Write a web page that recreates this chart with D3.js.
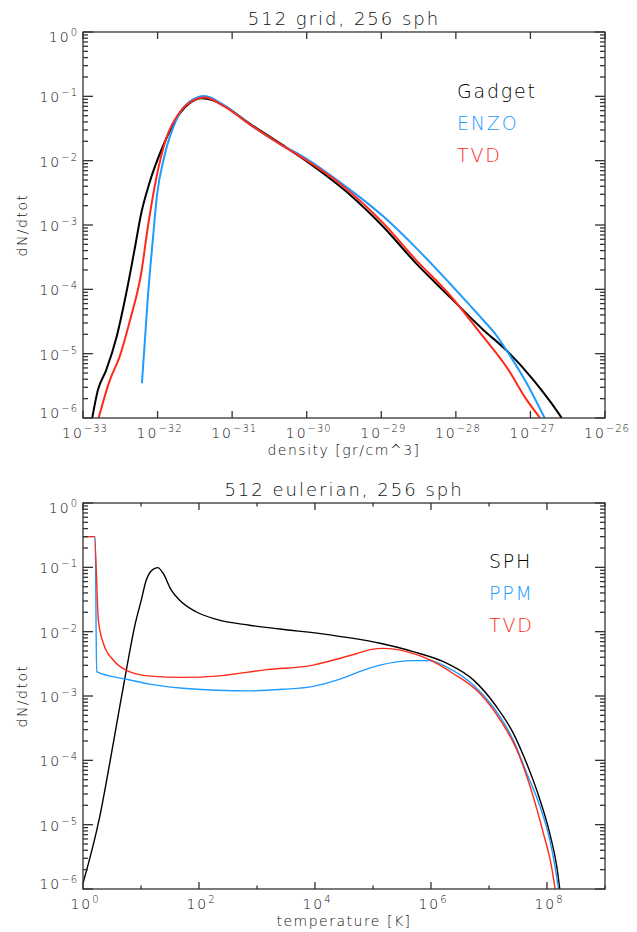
<!DOCTYPE html>
<html>
<head>
<meta charset="utf-8">
<script src="https://cdn.jsdelivr.net/npm/d3@7"></script>
<style>
    body { margin: 0; background: #fff; }
    svg text { font-family: "DejaVu Sans", "Liberation Sans", sans-serif; font-weight: 200; }
</style>
</head>
<body>
<svg id="chart" width="637" height="932"></svg>
<script>
(function () {
    'use strict';

    // ---- top panel: density distribution ----
    var gadgetDensity = [1.33e-33, 1.58e-33, 2.04e-33, 2.82e-33, 3.80e-33, 4.90e-33, 6.03e-33, 7.76e-33, 1.175e-32, 2.0e-32, 2.69e-32, 3.89e-32, 5.5e-32, 7.59e-32, 1.70e-31, 4.79e-31, 8.13e-31, 3.80e-30, 1.07e-29, 2.95e-29, 8.32e-29, 2.34e-28, 4.79e-28, 1.10e-27, 1.91e-27, 2.63e-27];
    var gadgetDN = [1e-6, 2.69e-6, 5.5e-6, 1.82e-5, 8.7e-5, 4.07e-4, 1.51e-3, 4.47e-3, 1.66e-2, 5.5e-2, 7.8e-2, 9.3e-2, 8.7e-2, 7.33e-2, 3.80e-2, 1.74e-2, 1.15e-2, 2.95e-3, 9.3e-4, 2.51e-4, 7.6e-5, 2.34e-5, 1.12e-5, 3.89e-6, 1.70e-6, 1e-6];

    var enzoDensity = [6.17e-33, 7.41e-33, 8.71e-33, 9.77e-33, 1.23e-32, 1.78e-32, 2.69e-32, 4.27e-32, 7.59e-32, 1.70e-31, 4.79e-31, 8.13e-31, 2.75e-30, 1.07e-29, 2.95e-29, 8.32e-29, 1.38e-28, 2.34e-28, 3.47e-28, 4.79e-28, 8.91e-28, 1.55e-27];
    var enzoDN = [3.47e-6, 7.6e-5, 6.6e-4, 2.75e-3, 1.15e-2, 4.27e-2, 8.3e-2, 0.101, 7.4e-2, 3.7e-2, 1.70e-2, 1.23e-2, 4.68e-3, 1.35e-3, 4.37e-4, 1.23e-4, 6.5e-5, 3.31e-5, 1.95e-5, 1.12e-5, 3.47e-6, 1e-6];

    var tvdDensity = [1.62e-33, 2.29e-33, 3.09e-33, 4.27e-33, 6.03e-33, 7.41e-33, 9.12e-33, 1.175e-32, 2.0e-32, 2.95e-32, 4.27e-32, 7.59e-32, 1.70e-31, 4.79e-31, 8.13e-31, 2.75e-30, 1.07e-29, 2.95e-29, 8.32e-29, 2.34e-28, 4.79e-28, 8.91e-28, 1.35e-27];
    var tvdDN = [1e-6, 3.89e-6, 8.9e-6, 3.31e-5, 1.78e-4, 9.3e-4, 3.89e-3, 1.46e-2, 5.75e-2, 8.5e-2, 9.55e-2, 7.1e-2, 3.7e-2, 1.70e-2, 1.17e-2, 4.47e-3, 1.06e-3, 2.82e-4, 8.1e-5, 1.82e-5, 6.2e-6, 1.91e-6, 1e-6];

    // ---- bottom panel: temperature distribution ----
    var sphTemp = [1, 1.94, 2.88, 4.01, 5.58, 7.76, 10.1, 12.3, 16.1, 19.5, 24.0, 33.1, 46.4, 89.1, 200, 741, 2512, 1.82e4, 1.32e5, 4.90e5, 1.86e6, 5.37e6, 1.35e7, 2.63e7, 4.47e7, 7.59e7, 1.12e8, 1.48e8, 1.66e8];
    var sphDN = [1.23e-6, 1.32e-5, 8.9e-5, 4.79e-4, 2.51e-3, 1.20e-2, 3.09e-2, 6.3e-2, 9.3e-2, 9.9e-2, 8.1e-2, 4.47e-2, 3.09e-2, 2.04e-2, 1.55e-2, 1.26e-2, 1.10e-2, 8.9e-3, 6.6e-3, 4.9e-3, 3.24e-3, 1.78e-3, 6.8e-4, 2.63e-4, 8.9e-5, 2.40e-5, 7.2e-6, 2.19e-6, 1e-6];

    var ppmTemp = [1, 1.62, 1.72, 5.62, 14.1, 52.5, 200, 741, 2818, 9330, 1.38e4, 2.09e4, 3.55e4, 6.76e4, 1.32e5, 2.57e5, 4.90e5, 9.55e5, 1.86e6, 5.37e6, 1.17e7, 2.63e7, 4.47e7, 7.59e7, 1.12e8, 1.38e8, 1.58e8];
    var ppmDN = [0.30, 0.30, 2.40e-3, 1.82e-3, 1.53e-3, 1.32e-3, 1.23e-3, 1.20e-3, 1.27e-3, 1.41e-3, 1.53e-3, 1.70e-3, 2.0e-3, 2.51e-3, 3.02e-3, 3.39e-3, 3.55e-3, 3.55e-3, 2.82e-3, 1.48e-3, 6.8e-4, 2.04e-4, 6.3e-5, 1.91e-5, 5.75e-6, 2.19e-6, 1e-6];

    var tvdTemp = [1, 1.58, 1.84, 2.24, 3.31, 5.62, 14.3, 53.7, 200, 1479, 9330, 2.34e4, 5.25e4, 8.91e4, 1.51e5, 3.80e5, 9.55e5, 2.40e6, 6.92e6, 1.55e7, 3.02e7, 5.13e7, 8.71e7, 1.20e8, 1.38e8];
    var tvdTempDN = [0.30, 0.30, 1.51e-2, 6.6e-3, 3.63e-3, 2.51e-3, 2.04e-3, 1.95e-3, 2.04e-3, 2.57e-3, 3.02e-3, 3.72e-3, 4.57e-3, 5.25e-3, 5.5e-3, 4.9e-3, 3.63e-3, 2.24e-3, 1.10e-3, 4.27e-4, 1.45e-4, 3.89e-5, 7.2e-6, 2.19e-6, 1e-6];

    // tick exponents
    var yExponents = [-6, -5, -4, -3, -2, -1, 0];
    var densityExponents = [-33, -32, -31, -30, -29, -28, -27, -26];
    var tempExponents = [0, 1, 2, 3, 4, 5, 6, 7, 8, 9];
    var tempLabelExponents = [0, 2, 4, 6, 8];

    var black = '#000000', blue = '#1e9bff', red = '#ff2a1a';
    var axisColor = '#333333';

    var svg = d3.select('#chart');

    function zip(xs, ys) {
        return xs.map(function (x, i) { return [x, ys[i]]; });
    }

    function powLabel(sel, exp) {
        sel.append('tspan').text('10');
        sel.append('tspan')
            .attr('dy', -6)
            .attr('font-size', 10)
            .attr('letter-spacing', 1)
            .text(exp < 0 ? '\u2212' + (-exp) : String(exp));
    }

    function drawPanel(o) {
        var x = d3.scaleLog().domain(o.xDomain).range([o.left, o.right]);
        var y = d3.scaleLog().domain([1e-6, 1]).range([o.bottom, o.top]);
        var g = svg.append('g');

        var clipId = 'clip-' + o.id;
        g.append('clipPath').attr('id', clipId)
            .append('rect')
            .attr('x', o.left).attr('y', o.top)
            .attr('width', o.right - o.left).attr('height', o.bottom - o.top);

        // curves
        var line = d3.line()
            .x(function (d) { return x(d[0]); })
            .y(function (d) { return y(d[1]); })
            .curve(d3.curveMonotoneX);

        var lines = g.append('g').attr('clip-path', 'url(#' + clipId + ')');
        o.series.forEach(function (s) {
            lines.append('path')
                .attr('d', line(s.points))
                .attr('fill', 'none')
                .attr('stroke', s.color)
                .attr('stroke-width', o.lineWidth)
                .attr('stroke-linejoin', 'round');
        });

        // frame
        var ax = g.append('g').attr('stroke', axisColor).attr('stroke-width', 1.3).attr('fill', 'none');
        ax.append('rect')
            .attr('x', o.left).attr('y', o.top)
            .attr('width', o.right - o.left).attr('height', o.bottom - o.top);

        // y ticks (major + minor) on both sides
        var yTicks = [];
        yExponents.forEach(function (e) {
            yTicks.push({ v: Math.pow(10, e), len: 10 });
            if (e < 0) {
                for (var k = 2; k <= 9; k++) yTicks.push({ v: k * Math.pow(10, e), len: 5 });
            }
        });
        yTicks.forEach(function (t) {
            var py = y(t.v);
            ax.append('line').attr('x1', o.left).attr('x2', o.left + t.len).attr('y1', py).attr('y2', py);
            ax.append('line').attr('x1', o.right).attr('x2', o.right - t.len).attr('y1', py).attr('y2', py);
        });

        // x ticks, top and bottom
        o.xTicks.forEach(function (e) {
            var px = x(Math.pow(10, e));
            var len = o.xLabels.indexOf(e) >= 0 ? 7 : 3.5;
            ax.append('line').attr('x1', px).attr('x2', px).attr('y1', o.bottom).attr('y2', o.bottom - len);
            ax.append('line').attr('x1', px).attr('x2', px).attr('y1', o.top).attr('y2', o.top + len);
        });

        // y tick labels
        yExponents.forEach(function (e) {
            var py = y(Math.pow(10, e));
            var base = py + 6;
            if (e === 0) base = o.top + 10;
            if (e === -6) base = o.bottom;
            var t = g.append('text')
                .attr('x', o.left - 5)
                .attr('y', base)
                .attr('text-anchor', 'end')
                .attr('font-size', 14)
                .attr('letter-spacing', 2)
                .attr('fill', '#111');
            powLabel(t, e);
        });

        // x tick labels
        o.xLabels.forEach(function (e) {
            var t = g.append('text')
                .attr('x', x(Math.pow(10, e)) + 2)
                .attr('y', o.bottom + 20)
                .attr('text-anchor', 'middle')
                .attr('font-size', 14)
                .attr('letter-spacing', 2)
                .attr('fill', '#111');
            powLabel(t, e);
        });

        var cx = (o.left + o.right) / 2;

        // title
        g.append('text')
            .attr('x', cx).attr('y', o.top - 7)
            .attr('text-anchor', 'middle')
            .attr('font-size', 18)
            .attr('letter-spacing', 2)
            .attr('fill', '#111')
            .text(o.title);

        // x axis title
        g.append('text')
            .attr('x', cx).attr('y', o.bottom + 37)
            .attr('text-anchor', 'middle')
            .attr('font-size', 14)
            .attr('letter-spacing', 1.5)
            .attr('fill', '#111')
            .text(o.xTitle);

        // y axis title
        g.append('text')
            .attr('transform', 'translate(' + 27 + ',' + ((o.top + o.bottom) / 2) + ') rotate(-90)')
            .attr('text-anchor', 'middle')
            .attr('font-size', 14)
            .attr('letter-spacing', 1.5)
            .attr('fill', '#111')
            .text('dN/dtot');

        // legend
        o.series.forEach(function (s, i) {
            g.append('text')
                .attr('x', o.legendX)
                .attr('y', o.legendY + i * 32)
                .attr('font-size', 19)
                .attr('letter-spacing', 1.8)
                .attr('fill', s.color)
                .text(s.name);
        });
    }

    drawPanel({
        id: 'density',
        left: 83, right: 605, top: 32, bottom: 418,
        xDomain: [1e-33, 1e-26],
        xTicks: densityExponents,
        xLabels: densityExponents,
        title: '512 grid, 256 sph',
        xTitle: 'density [gr/cm^3]',
        lineWidth: 2,
        legendX: 457, legendY: 98,
        series: [
            { name: 'Gadget', color: black, points: zip(gadgetDensity, gadgetDN) },
            { name: 'ENZO', color: blue, points: zip(enzoDensity, enzoDN) },
            { name: 'TVD', color: red, points: zip(tvdDensity, tvdDN) }
        ]
    });

    drawPanel({
        id: 'temperature',
        left: 83, right: 605, top: 503, bottom: 889,
        xDomain: [1, 1e9],
        xTicks: tempExponents,
        xLabels: tempLabelExponents,
        title: '512 eulerian, 256 sph',
        xTitle: 'temperature [K]',
        lineWidth: 1.4,
        legendX: 489, legendY: 568,
        series: [
            { name: 'SPH', color: black, points: zip(sphTemp, sphDN) },
            { name: 'PPM', color: blue, points: zip(ppmTemp, ppmDN) },
            { name: 'TVD', color: red, points: zip(tvdTemp, tvdTempDN) }
        ]
    });
}());
</script>
</body>
</html>
